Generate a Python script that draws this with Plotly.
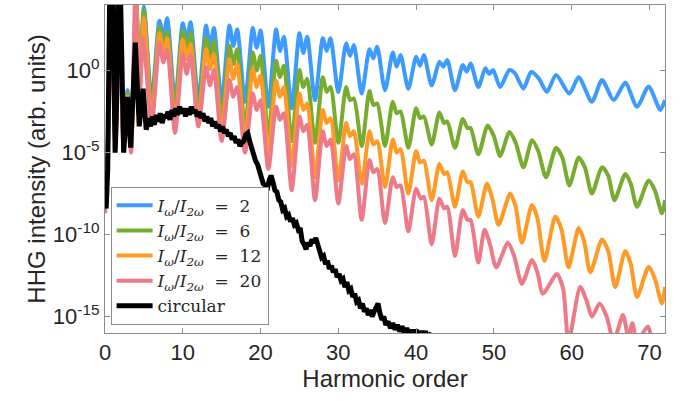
import plotly.graph_objects as go

# ---- data (harmonic order, log10 intensity) ----
x_blue = [0, 0.3, 0.8, 1.3, 1.8, 2.4, 2.9, 3.35, 4.0, 4.45, 5.0, 6.0, 7.0, 7.5, 8.0, 9.0, 10.0, 10.5, 11.0, 12.0,
          13.0, 13.5, 14.0, 15.0, 16.0, 16.5, 17.0, 18.0, 19.0, 19.5, 20.0, 21.0, 22.0, 22.5, 23.0, 24.0,
          25.0, 25.5, 26.0, 27.0, 28.0, 28.5, 29.0, 30.0, 31.0, 31.5, 32.0, 33.0, 34.0, 34.5, 35.0, 36.0,
          37.0, 37.5, 38.0, 39.0, 40.0, 40.5, 41.0, 42.0, 43.0, 43.5, 44.0, 45.0, 46.0, 46.5, 47.0, 48.0,
          48.9, 49.4, 49.9, 50.8, 52.0, 52.7, 53.8, 54.8, 55.8, 56.8, 58.0, 59.7, 60.9, 62.6, 63.9, 65.4,
          66.9, 68.4, 69.9, 71.4, 72.0]
lg_blue = [-7.8, -5.5, 4.5, -3.5, 4.5, -4.2, -1.2, -4.0, 4.6, -0.5, 3.9, -1.8, 3.04, 2.05, 3.19, -1.9, 2.88, 1.9, 2.95, -1.8,
           2.75, 1.4, 2.6, -1.9, 2.75, 1.5, 2.5, -1.9, 2.6, 1.4, 2.45, -2.2, 2.5, 1.2, 2.05, -2.3,
           2.27, 1.07, 2.07, -1.8, 1.97, 1.2, 1.97, -1.3, 1.66, 0.9, 1.56, -1.4, 1.3, 0.75, 1.46, -1.2,
           1.1, 0.25, 0.95, -1.1, 0.85, 0.3, 0.95, -0.9, 0.54, 0.24, 0.65, -1.2, 0.34, -0.07, 0.44, -1.0,
           0.14, -0.2, 0.04, -1.0, 0.04, -0.16, -1.1, -0.07, -0.5, -1.3, -0.27, -1.4, -0.41, -1.9, -0.57, -1.8,
           -0.74, -2.2, -0.98, -2.4, -1.8]

x_green = [0, 0.3, 0.8, 1.3, 1.8, 2.4, 2.9, 3.35, 4.0, 4.45, 5.0, 6.0, 7.0, 7.5, 8.0, 9.0, 10.0, 10.5, 11.0, 12.0,
           13.0, 13.5, 14.0, 15.0, 16.0, 16.5, 17.0, 18.0, 19.0, 19.5, 20.0, 21.0, 22.0, 22.5, 23.0, 24.0,
           25.0, 25.5, 26.0, 27.0, 28.0, 28.5, 29.0, 30.0, 31.0, 31.5, 32.0, 33.0, 34.0, 34.5, 35.0, 36.0,
           37.0, 37.5, 38.0, 39.0, 40.0, 40.5, 41.0, 42.0, 43.0, 43.6, 44.0, 45.0, 46.0, 46.6, 47.0, 48.0,
           49.2, 50.0, 50.8, 52.0, 52.8, 53.8, 54.9, 55.7, 56.7, 58.0, 58.8, 59.7, 60.9, 61.7, 62.6, 63.9,
           64.7, 65.5, 66.9, 67.6, 68.4, 69.9, 70.7, 71.6, 72.0]
lg_green = [-7.9, -5.7, 4.5, -3.7, 4.5, -4.4, -1.4, -4.6, 4.5, -1.0, 3.7, -2.3, 2.68, 1.6, 2.37, -2.3, 2.4, 1.3, 2.3, -2.6,
            2.0, 0.8, 1.8, -3.0, 1.5, 0.4, 1.3, -3.5, 1.1, 0.0, 0.9, -4.0, 0.6, -0.4, 0.3, -4.3,
            0.04, -1.0, -0.5, -4.4, -0.4, -1.3, -1.0, -4.4, -1.0, -1.8, -1.7, -4.6, -1.25, -2.1, -2.0, -4.6,
            -1.9, -2.6, -2.5, -4.7, -2.3, -2.9, -2.8, -4.5, -2.55, -3.2, -3.1, -4.7, -2.95, -3.5, -3.5, -5.1,
            -3.35, -4.0, -5.2, -3.75, -4.4, -5.9, -4.25, -4.9, -6.5, -4.7, -5.3, -7.0, -5.3, -5.9, -7.5, -5.9,
            -6.4, -7.9, -6.3, -6.9, -8.3, -6.7, -7.3, -8.7, -7.9]

x_orange = [0, 0.3, 0.8, 1.3, 1.8, 2.4, 2.9, 3.35, 4.0, 4.45, 5.0, 6.0, 7.0, 7.5, 8.0, 9.0, 10.0, 10.5, 11.0, 12.0,
            13.0, 13.5, 14.0, 15.0, 16.0, 16.5, 17.0, 18.0, 19.0, 19.5, 20.0, 21.0, 22.0, 22.5, 23.0, 24.0,
            25.0, 25.5, 26.0, 27.0, 28.0, 28.5, 29.0, 30.0, 31.0, 31.5, 32.0, 33.0, 34.0, 34.5, 35.0, 36.0,
            37.0, 37.5, 38.0, 39.0, 40.0, 40.5, 41.0, 42.0, 43.0, 43.6, 44.0, 45.0, 46.0, 46.6, 47.0, 48.0,
            49.1, 49.8, 50.6, 52.1, 52.8, 53.6, 54.9, 55.6, 56.5, 57.9, 58.7, 59.6, 60.9, 61.6, 62.4, 63.9,
            64.7, 65.6, 66.9, 67.6, 68.4, 69.9, 70.7, 71.6, 72.0]
lg_orange = [-8.0, -6.0, 4.5, -4.0, 4.5, -4.6, -1.6, -4.8, 4.5, -1.5, 3.2, -3.0, 2.27, 1.0, 1.97, -3.3, 1.9, 0.7, 1.6, -3.2,
             1.3, 0.1, 1.0, -3.8, 0.7, -0.5, 0.4, -4.3, 0.1, -1.0, -0.3, -5.0, -0.6, -1.6, -1.0, -5.8,
             -1.4, -2.4, -2.0, -6.5, -2.4, -3.2, -2.9, -6.7, -3.2, -4.0, -3.7, -6.9, -3.7, -4.5, -4.3, -7.1,
             -4.2, -5.0, -4.8, -7.5, -4.9, -5.6, -5.5, -7.9, -5.7, -6.3, -6.2, -8.3, -6.15, -6.8, -6.8, -8.9,
             -6.9, -7.8, -9.4, -7.5, -8.3, -10.5, -8.2, -9.0, -11.6, -8.9, -9.7, -12.0, -9.6, -10.4, -12.3, -10.3,
             -11.0, -13.2, -11.0, -11.8, -13.8, -11.96, -12.7, -14.2, -13.2]

x_pink = [0, 0.3, 0.8, 1.3, 1.8, 2.4, 2.9, 3.35, 3.9, 4.4, 4.9, 6.0, 7.0, 7.5, 8.0, 9.0, 10.0, 10.5, 11.0, 12.0,
          13.0, 13.5, 14.0, 15.0, 16.0, 16.5, 17.0, 18.0, 19.0, 19.5, 20.0, 21.0, 22.0, 22.5, 23.0, 24.0,
          25.0, 25.5, 26.0, 27.0, 28.0, 28.5, 29.0, 30.0, 31.0, 31.5, 32.0, 33.0, 34.0, 34.5, 35.0, 36.0,
          37.0, 37.5, 38.0, 39.0, 40.0, 40.6, 41.0, 42.0, 43.0, 43.6, 44.0, 45.0, 46.0, 46.6, 47.0, 48.0,
          48.8, 49.5, 50.3, 51.8, 52.6, 53.6, 54.9, 55.6, 56.3, 58.1, 58.9, 59.6, 61.1, 61.9, 62.6, 63.6,
          64.5, 65.4, 66.6, 67.3, 67.8, 68.4, 69.8, 70.5, 72.0]
lg_pink = [-8.7, -6.3, 4.5, -4.3, 4.5, -4.8, -1.8, -5.0, 4.6, -2.0, 2.0, -3.3, 1.68, 0.5, 1.26, -3.8, 1.05, -0.2, 0.95, -3.4,
           0.2, -0.9, 0.04, -4.3, -0.57, -1.6, -1.0, -5.0, -1.4, -2.4, -1.8, -6.0, -2.2, -3.0, -2.6, -7.3,
           -2.8, -3.7, -3.3, -7.9, -3.7, -4.6, -4.2, -8.1, -4.6, -5.4, -5.1, -9.1, -5.45, -6.2, -6.0, -9.3,
           -6.5, -7.1, -7.0, -9.8, -7.2, -7.8, -7.7, -10.6, -7.8, -8.4, -8.3, -11.3, -8.5, -9.1, -9.1, -11.7,
           -9.7, -10.6, -12.0, -10.5, -11.3, -13.0, -11.55, -12.3, -13.6, -12.4, -13.3, -16.5, -13.2, -14.0, -15.0, -14.2,
           -15.0, -16.5, -14.9, -16.3, -15.4, -16.5, -15.6, -16.5, -16.5]

x_black = [0.0, 0.15, 0.35, 0.6, 1.0, 1.3, 1.45, 1.7, 2.0, 2.4, 2.9, 3.3, 3.9, 4.4, 4.9, 5.3,
           5.6, 5.85, 6.1, 6.35, 6.6, 6.85, 7.1, 7.35, 7.6, 7.85, 8.1, 8.35, 8.6, 8.85, 9.1, 9.35, 9.6, 9.85,
           10.1, 10.35, 10.6, 10.85, 11.1, 11.35, 11.6, 11.85, 12.1, 12.35, 12.6, 12.85, 13.1, 13.35, 13.6, 13.85,
           14.1, 14.35, 14.6, 14.85, 15.1, 15.35, 15.6, 15.85, 16.1, 16.35, 16.6, 16.85, 17.1, 17.35, 17.6, 17.85,
           18.1, 18.35, 18.6, 18.85, 19.1, 19.35, 19.6, 19.85, 20.1, 20.35, 20.6, 20.85, 21.1, 21.35, 21.6, 21.85,
           22.1, 22.35, 22.6, 22.85, 23.1, 23.35, 23.6, 23.85, 24.1, 24.35, 24.6, 24.85, 25.1, 25.35, 25.6, 25.85,
           26.1, 26.35, 26.6, 26.85, 27.1, 27.35, 27.6, 27.85, 28.1, 28.35, 28.6, 28.85, 29.1, 29.35, 29.6, 29.85,
           30.1, 30.35, 30.6, 30.85, 31.1, 31.35, 31.6, 31.85, 32.1, 32.35, 32.6, 32.85, 33.1, 33.35, 33.6, 33.85,
           34.1, 34.35, 34.6, 34.85, 35.1, 35.35, 35.6, 35.85, 36.1, 36.4, 36.7, 37.0, 37.3, 37.6, 37.9, 38.2,
           38.5, 38.8, 39.1, 39.4, 39.7, 40.0, 40.3, 40.6, 40.9, 41.2, 41.5, 42.0]
lg_black = [-7.9, -8.4, -6.0, 4.5, 4.5, -5.0, -3.0, 4.5, 4.5, -5.0, -1.6, -4.7, 1.7, -3.4, -1.1, -3.6,
            -2.9, -3.4, -2.8, -3.3, -2.7, -3.1, -2.6, -3.2, -2.7, -2.9, -2.5, -3.0, -2.4, -2.8, -2.3, -2.7, -2.2, -2.6,
            -2.3, -2.8, -2.3, -2.7, -2.2, -2.6, -2.4, -2.8, -2.5, -2.9, -2.6, -3.1, -2.8, -3.2, -2.9, -3.4,
            -3.1, -3.5, -3.3, -3.7, -3.4, -3.8, -3.6, -4.0, -3.8, -4.2, -4.0, -4.4, -4.2, -4.6, -4.4, -4.3,
            -3.9, -3.8, -4.3, -4.8, -5.1, -5.5, -5.7, -6.2, -6.4, -6.9, -7.0, -7.3, -6.7, -6.4, -6.8, -7.3,
            -7.4, -7.9, -8.0, -8.5, -8.4, -8.9, -8.8, -9.2, -9.0, -9.4, -9.3, -9.7, -9.6, -10.4, -10.6, -10.9,
            -10.5, -10.7, -10.3, -10.5, -10.2, -10.7, -10.9, -11.4, -11.3, -11.8, -11.6, -12.1, -11.9, -12.3, -12.1, -12.6,
            -12.4, -12.8, -12.7, -13.2, -12.9, -13.4, -13.3, -13.8, -13.6, -14.1, -14.0, -14.5, -14.2, -14.7, -14.5, -14.9,
            -14.6, -15.0, -14.7, -14.5, -14.2, -14.8, -15.2, -15.0, -15.5, -15.3, -15.7, -15.4, -15.8, -15.5, -15.9, -15.6,
            -16.0, -15.7, -16.1, -15.8, -16.2, -15.8, -16.2, -15.9, -16.2, -15.9, -16.3, -16.0]

eq = "&nbsp;&nbsp;=&nbsp;&nbsp;"
series_names = ["<i>I<sub>ω</sub></i>/<i>I<sub>2ω</sub></i>" + eq + "2",
                "<i>I<sub>ω</sub></i>/<i>I<sub>2ω</sub></i>" + eq + "6",
                "<i>I<sub>ω</sub></i>/<i>I<sub>2ω</sub></i>" + eq + "12",
                "<i>I<sub>ω</sub></i>/<i>I<sub>2ω</sub></i>" + eq + "20",
                "circular"]
y_tick_vals = [1e-15, 1e-10, 1e-5, 1e0]
y_tick_text = ["10<sup>-15</sup>", "10<sup>-10</sup>", "10<sup>-5</sup>", "10<sup>0</sup>"]
x_tick_vals = [0, 10, 20, 30, 40, 50, 60, 70]

colors = ["#3D9BFF", "#77AC30", "#FF9A26", "#EE7A88", "#000000"]
widths = [4.0, 4.0, 4.0, 4.0, 5.0]
shapes = ["spline", "spline", "spline", "spline", "linear"]
data = [(x_blue, lg_blue), (x_green, lg_green), (x_orange, lg_orange), (x_pink, lg_pink), (x_black, lg_black)]

fig = go.Figure()
for (xs, lg), name, c, w, s in zip(data, series_names, colors, widths, shapes):
    fig.add_trace(go.Scatter(x=xs, y=[10 ** v for v in lg], mode="lines", name=name,
                             line=dict(color=c, width=w, shape=s, smoothing=0.7)))

axis_common = dict(showline=True, linecolor="#8c8c8c", linewidth=1, mirror="allticks", ticks="inside",
                   ticklen=5, tickcolor="#8c8c8c", showgrid=False, zeroline=False, automargin=False,
                   tickfont=dict(family="Liberation Sans, Arial", size=22, color="#262626"))
fig.update_xaxes(range=[0, 72], tickvals=x_tick_vals, title=dict(text="Harmonic order", standoff=2,
                 font=dict(family="Liberation Sans, Arial", size=24, color="#262626")), **axis_common)
fig.update_yaxes(type="log", range=[-16, 4], tickvals=y_tick_vals, ticktext=y_tick_text,
                 title=dict(text="HHG intensity (arb. units)", standoff=0,
                            font=dict(family="Liberation Sans, Arial", size=24, color="#262626")), **axis_common)
fig.update_layout(width=682, height=401, margin=dict(l=105, r=17, t=5, b=68),
                  plot_bgcolor="white", paper_bgcolor="white", showlegend=True,
                  legend=dict(x=0.01, y=0.025, xanchor="left", yanchor="bottom", bgcolor="white",
                              bordercolor="#8c8c8c", borderwidth=1, itemwidth=36, tracegroupgap=0,
                              font=dict(family="DejaVu Serif", size=17, color="#262626")))
fig.write_html("out.html", config={"displayModeBar": False},
               post_script="document.body.style.margin='0px';")
